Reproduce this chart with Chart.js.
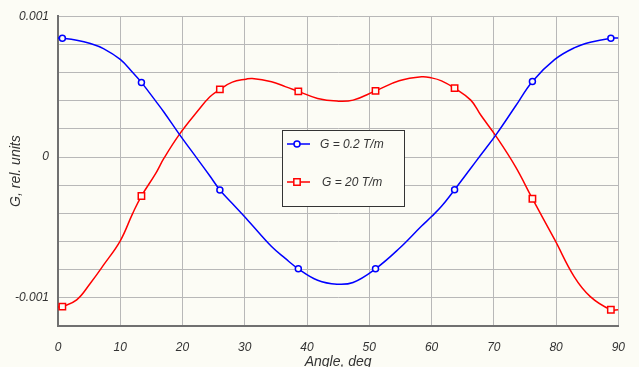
<!DOCTYPE html>
<html>
<head>
  <title>G vs angle</title>
  <script src="https://cdn.jsdelivr.net/npm/chart.js"></script>
  <style>
    body { margin: 0; background: #fcfcf5; }
  </style>
</head>
<body>
  <canvas id="gChart" width="639" height="367"></canvas>

  <script>
    // angle in degrees, G values in units of 0.001
    const angles = [0, 0.7, 3, 5.2, 7.3, 10, 12, 13.4, 15.7, 17, 19.5, 22.5, 24.4, 26, 28, 30.2, 31.2, 34.3, 36.5, 38.6,
                    41.7, 44.8, 47.4, 51, 54.8, 58.4, 60, 61.6, 63.7, 66.3, 67.9, 70.4, 73.5, 76.2, 79.8, 82.9, 85.5, 88.8, 90];
    const gLow = [0.845, 0.844, 0.83, 0.806, 0.77, 0.693, 0.60, 0.53, 0.397, 0.32, 0.161, -0.02, -0.135, -0.234, -0.33, -0.435, -0.485, -0.636, -0.72, -0.794,
                  -0.875, -0.903, -0.891, -0.794, -0.65, -0.49, -0.423, -0.35, -0.232, -0.08, 0.014, 0.161, 0.362, 0.537, 0.693, 0.775, 0.815, 0.844, 0.845];
    const gHigh = [-1.065, -1.062, -1.014, -0.896, -0.768, -0.595, -0.40, -0.277, -0.116, -0.01, 0.161, 0.33, 0.428, 0.48, 0.532, 0.553, 0.558, 0.534, 0.50, 0.466,
                   0.416, 0.397, 0.404, 0.47, 0.541, 0.57, 0.562, 0.541, 0.489, 0.404, 0.298, 0.145, -0.07, -0.296, -0.589, -0.849, -0.991, -1.085, -1.085];
    const markerAngles = [0.7, 13.4, 26, 38.6, 51, 63.7, 76.2, 88.8];
    const seriesLabels = ["G = 0.2 T/m", "G = 20 T/m"];
    const yLabelValues = [-0.001, 0, 0.001];
    const yLabelTexts = ["-0.001", "0", "0.001"];

    const BG = "#fcfcf5";
    const FONT = "'Liberation Sans', Arial, sans-serif";

    const toPoints = (vals) => angles.map((a, i) => ({ x: a, y: vals[i] / 1000 }));
    const markRadius = (r) => (ctx) => markerAngles.includes(ctx.raw.x) ? r : 0;

    // legend box drawn inside the plot, like the original
    const boxLegend = {
      id: "boxLegend",
      afterDatasetsDraw(chart) {
        const c = chart.ctx;
        const left = 282, top = 130, w = 122, h = 76;
        c.save();
        c.fillStyle = BG;
        c.fillRect(left, top, w, h);
        c.strokeStyle = "#333";
        c.lineWidth = 1;
        c.strokeRect(left + 0.5, top + 0.5, w, h);
        const rows = [144, 182];
        const textX = [320, 322];
        chart.data.datasets.forEach((ds, i) => {
          const y = rows[i];
          c.strokeStyle = ds.borderColor;
          c.lineWidth = 1.5;
          c.beginPath();
          c.moveTo(287, y);
          c.lineTo(310, y);
          c.stroke();
          c.fillStyle = BG;
          Chart.helpers.drawPoint(c, {
            pointStyle: ds.pointStyle,
            radius: ds.legendRadius,
            borderWidth: 1.5,
            rotation: 0
          }, 297, y);
          c.fillStyle = "#333";
          c.font = "italic 12px " + FONT;
          c.textBaseline = "middle";
          c.fillText(ds.label, textX[i], y + 1);
        });
        c.restore();
      }
    };

    const bgPlugin = {
      id: "bg",
      beforeDraw(chart) {
        const c = chart.ctx;
        c.save();
        c.fillStyle = BG;
        c.fillRect(0, 0, chart.width, chart.height);
        c.restore();
      }
    };

    new Chart(document.getElementById("gChart"), {
      type: "line",
      data: {
        datasets: [
          {
            label: seriesLabels[0],
            data: toPoints(gLow),
            borderColor: "#0000ff",
            backgroundColor: BG,
            borderWidth: 1.5,
            pointStyle: "circle",
            pointRadius: markRadius(3),
            legendRadius: 3,
            pointBorderWidth: 1.5,
            tension: 0.4
          },
          {
            label: seriesLabels[1],
            data: toPoints(gHigh),
            borderColor: "#ff0000",
            backgroundColor: BG,
            borderWidth: 1.5,
            pointStyle: "rect",
            pointRadius: markRadius(4.5),
            legendRadius: 4.5,
            pointBorderWidth: 1.5,
            tension: 0.4
          }
        ]
      },
      options: {
        responsive: false,
        animation: false,
        layout: { padding: { top: 16, right: 8, left: 0, bottom: 0 } },
        plugins: {
          legend: { display: false },
          tooltip: { enabled: false }
        },
        scales: {
          x: {
            type: "linear",
            min: 0,
            max: 90,
            ticks: {
              stepSize: 10,
              padding: 14,
              color: "#333",
              font: { family: FONT, size: 12, style: "italic" }
            },
            grid: { color: "#b8b8b8", lineWidth: 1, drawTicks: false },
            border: { color: "#707070", width: 2 },
            title: {
              display: true,
              text: "Angle, deg",
              color: "#333",
              padding: { top: 0, bottom: -4 },
              font: { family: FONT, size: 14, style: "italic" }
            },
            afterFit(scale) { scale.height = 41; }
          },
          y: {
            min: -0.0012,
            max: 0.001,
            ticks: {
              stepSize: 0.0002,
              padding: 9,
              color: "#333",
              font: { family: FONT, size: 12, style: "italic" },
              callback(v) {
                const i = yLabelValues.findIndex((t) => Math.abs(t - v) < 1e-9);
                return i >= 0 ? yLabelTexts[i] : "";
              }
            },
            grid: { color: "#b8b8b8", lineWidth: 1, drawTicks: false },
            border: { color: "#707070", width: 2 },
            title: {
              display: true,
              text: "G, rel. units",
              color: "#333",
              padding: { top: 8, bottom: 0 },
              font: { family: FONT, size: 14, style: "italic" }
            },
            afterFit(scale) { scale.width = 58; }
          }
        }
      },
      plugins: [bgPlugin, boxLegend]
    });
  </script>
</body>
</html>
